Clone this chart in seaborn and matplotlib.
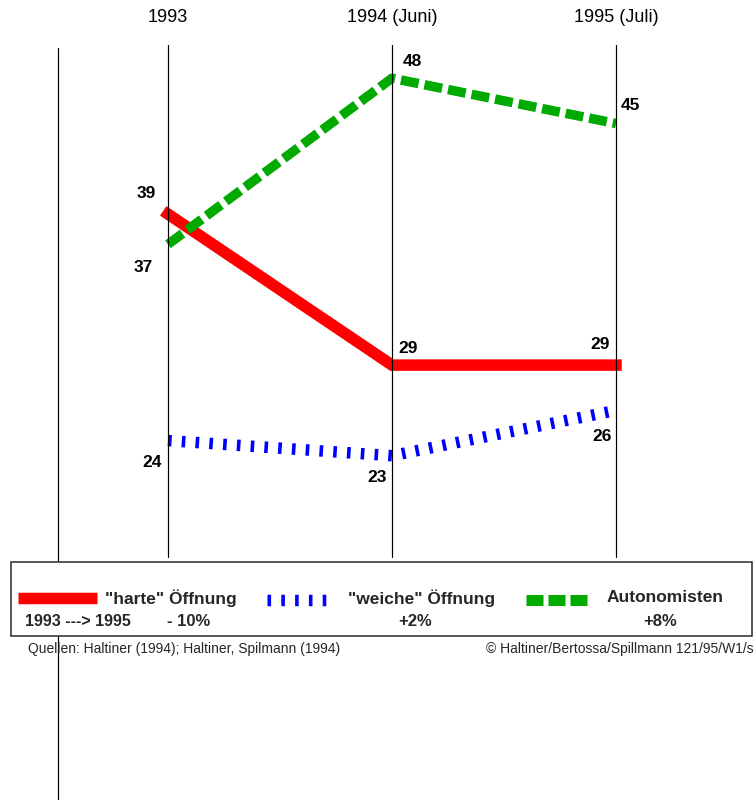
import matplotlib
matplotlib.use("Agg")
import numpy as np
import pandas as pd
import seaborn as sns
import matplotlib.pyplot as plt
from matplotlib.lines import Line2D
from matplotlib.patches import Rectangle
from matplotlib.transforms import blended_transform_factory

# ---------------- data ----------------
periods = ["1993", "1994 (Juni)", "1995 (Juli)"]
harte = [39, 29, 29]
weiche = [24, 23, 26]
autonom = [37, 48, 45]
series_names = ['"harte" Öffnung', '"weiche" Öffnung', "Autonomisten"]
changes = ["- 10%", "+2%", "+8%"]
range_label = "1993 ---> 1995"
source_left = "Quellen: Haltiner (1994); Haltiner, Spilmann (1994)"
source_right = "© Haltiner/Bertossa/Spillmann 121/95/W1/s"

# ---------------- style ----------------
sns.set_theme(style="white")
plt.rcParams["font.family"] = ["Liberation Sans", "DejaVu Sans"]
plt.rcParams["lines.scale_dashes"] = False

W, H = 755, 800
PT = 0.72  # points per pixel at dpi 100

fig = plt.figure(figsize=(W / 100, H / 100), dpi=100)
ax = fig.add_axes([0, 0, 1, 1])
step = 224.0  # px per period
ax.set_xlim(-168 / step, (W - 168) / step)
ax.set_ylim(3 / 15.1, 803 / 15.1)
ax.axis("off")

x = np.arange(len(periods))
df = pd.DataFrame({"x": np.tile(x, 3),
                   "value": harte + weiche + autonom,
                   "series": np.repeat(series_names, 3)})

styles = {
    series_names[0]: dict(color="#ff0000", lw=11.5 * PT, dashes=None, z=2),
    series_names[1]: dict(color="#0000ff", lw=11.5 * PT, dashes=(3.6 * PT, 10.2 * PT), z=2),
    series_names[2]: dict(color="#00aa00", lw=9.5 * PT, dashes=(18 * PT, 6 * PT), z=3),
}

for name in series_names:
    st = styles[name]
    sub = df[df["series"] == name]
    sns.lineplot(data=sub, x="x", y="value", ax=ax, color=st["color"],
                 linewidth=st["lw"], zorder=st["z"], legend=False,
                 estimator=None, sort=False)
    line = ax.lines[-1]
    if st["dashes"] is not None:
        line.set_dashes(st["dashes"])
        line.set_dash_capstyle("butt")
    else:
        line.set_solid_capstyle("projecting")
    line.set_solid_joinstyle("miter")

# vertical period lines
for xi in x:
    ax.axvline(xi, ymin=1 - 557 / H, ymax=1 - 45 / H, color="black",
               lw=1.0 * PT * 1.2, zorder=5)
# stray guide line at the left
ax.axvline((58 - 168) / step, ymin=0, ymax=1 - 48 / H, color="black",
           lw=1.0 * PT * 1.2, zorder=1)

# top period labels
tb = blended_transform_factory(ax.transData, ax.transAxes)
for xi, lab in zip(x, periods):
    ax.text(xi, 1 - 18 / H, lab, transform=tb, ha="center", va="center",
            fontsize=13, color="black")

# value labels (offsets in px: right, up)
offsets = {
    series_names[0]: [(-22, 21), (16, 17), (-16, 21)],
    series_names[1]: [(-16, -22), (-15, -22), (-14, -26)],
    series_names[2]: [(-25, -23), (20, 17), (14, 18)],
}
for name, vals in zip(series_names, [harte, weiche, autonom]):
    for xi, v, (dx, dy) in zip(x, vals, offsets[name]):
        ax.annotate(str(v), xy=(xi, v), xytext=(dx * PT, dy * PT),
                    textcoords="offset points", ha="center", va="center",
                    fontsize=12.5, fontweight="bold", color="black", zorder=6)

# ---------------- legend box ----------------
def P(px, py):
    return (px / W, 1 - py / H)

box = Rectangle(P(11, 636), (752 - 11) / W, (636 - 562) / H,
                transform=ax.transAxes, facecolor="white", edgecolor="#333333",
                lw=1.6 * PT, zorder=10, clip_on=False)
ax.add_patch(box)

swatches = [((18, 97), 598, styles[series_names[0]], 11.5),
            ((267, 326), 600, styles[series_names[1]], 11.5),
            ((526, 587), 600, dict(color="#00aa00", dashes=(17 * PT, 5 * PT)), 11)]
for (x0, x1), yy, st, w in swatches:
    ln = Line2D([x0 / W, x1 / W], [1 - yy / H, 1 - yy / H], transform=ax.transAxes,
                color=st["color"], lw=w * PT, zorder=11, solid_capstyle="butt",
                dash_capstyle="butt", clip_on=False)
    if st["dashes"] is not None:
        ln.set_dashes(st["dashes"])
    ax.add_line(ln)

ax.text(*P(105, 598), series_names[0], transform=ax.transAxes, ha="left", va="center",
        fontsize=12.5, fontweight="bold", zorder=12)
ax.text(*P(422, 598), series_names[1], transform=ax.transAxes, ha="center", va="center",
        fontsize=12.5, fontweight="bold", zorder=12)
ax.text(*P(665, 598), series_names[2], transform=ax.transAxes, ha="center", va="center",
        fontsize=12.5, fontweight="bold", zorder=12)
ax.text(*P(25, 621), range_label, transform=ax.transAxes, ha="left", va="center",
        fontsize=11.5, fontweight="bold", zorder=12)
for cx, lab in zip([189, 415, 660], changes):
    ax.text(*P(cx, 621), lab, transform=ax.transAxes, ha="center", va="center",
            fontsize=12, fontweight="bold", zorder=12)

# sources
ax.text(*P(28, 649), source_left, transform=ax.transAxes, ha="left", va="center",
        fontsize=10, zorder=12)
ax.text(*P(754, 649), source_right, transform=ax.transAxes, ha="right", va="center",
        fontsize=10, zorder=12)

fig.savefig("out.png", dpi=100, facecolor="white")
